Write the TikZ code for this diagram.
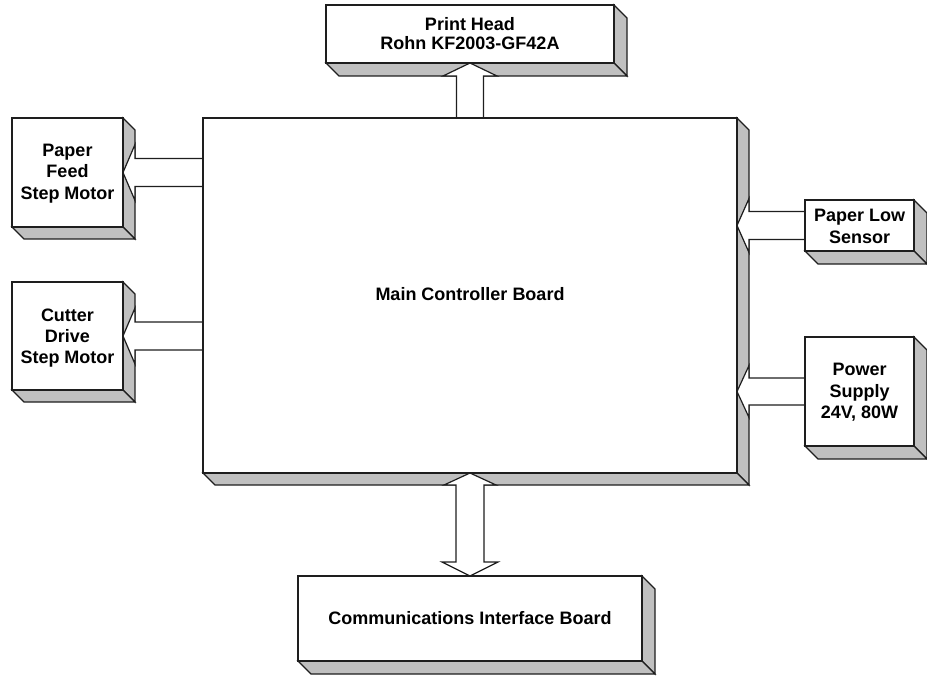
\documentclass[tikz,border=0pt]{standalone}
\usepackage{fontspec}
\setmainfont{Liberation Sans}
\usetikzlibrary{calc,fit}
\definecolor{shadegray}{HTML}{C0C0C0}
\definecolor{edge}{HTML}{1E1E1E}
\pgfdeclarelayer{background}
\pgfsetlayers{background,main}
\tikzset{
  block/.style={draw=edge, fill=white, line width=0.9pt, inner sep=0pt, outer sep=0pt},
  caption/.style={inner sep=0pt, align=center, font=\bfseries\fontsize{13.5}{16}\selectfont},
  tightcaption/.style={caption, font=\bfseries\fontsize{13.5}{14.3}\selectfont},
  side/.style={draw=edge, fill=shadegray, line width=0.9pt, line join=miter},
  flow/.style={draw=edge, fill=white, line width=0.9pt, line join=miter},
}
% gray right and bottom faces of a raised block: #1 node, #2 depth
\newcommand{\extrudeblock}[2]{%
  \filldraw[side] (#1.north east) -- ++(#2,#2) -- ($(#1.south east)+(#2,#2)$) -- (#1.south east) -- cycle;
  \filldraw[side] (#1.south west) -- ++(#2,#2) -- ($(#1.south east)+(#2,#2)$) -- (#1.south east) -- cycle;
}
\begin{document}
\begin{tikzpicture}[x=0.75pt, y=-0.75pt]
  \useasboundingbox (0,0) rectangle (927,677);

  % front faces
  \node[block, fit={(203,118) (737,473)}] (main) {};
  \node[block, fit={(326,5) (614,63)}] (head) {};
  \node[block, fit={(12,118) (123,227)}] (feed) {};
  \node[block, fit={(12,282) (123,390)}] (cutter) {};
  \node[block, fit={(805,200) (914,251)}] (low) {};
  \node[block, fit={(805,337) (914,446)}] (power) {};
  \node[block, fit={(298,576) (642,661)}] (comm) {};

  % block captions
  \node[caption] (maintxt) at ($(main.center)+(0,-1)$) {Main Controller Board};
  \node[tightcaption] (headtxt) at ($(head.center)+(0,0)$) {Print Head\\Rohn KF2003-GF42A};
  \node[caption] (feedtxt) at ($(feed.center)+(0,1)$) {Paper\\Feed\\Step Motor};
  \node[caption] (cuttertxt) at ($(cutter.center)+(0,2)$) {Cutter\\Drive\\Step Motor};
  \node[caption] (lowtxt) at ($(low.center)+(0,1)$) {Paper Low\\Sensor};
  \node[caption] (powertxt) at ($(power.center)+(0,1)$) {Power\\Supply\\24V, 80W};
  \node[caption] (commtxt) at (comm.center) {Communications Interface Board};

  \begin{pgfonlayer}{background}
    % extruded sides
    \extrudeblock{main}{12}
    \extrudeblock{head}{13}
    \extrudeblock{feed}{12}
    \extrudeblock{cutter}{12}
    \extrudeblock{low}{13}
    \extrudeblock{power}{13}
    \extrudeblock{comm}{13}

    % main board -> print head
    \filldraw[flow] ($(main.north -| head.south)+(-13.5,0)$) -- ($(head.south)+(-13.5,13)$)
      -- ($(head.south)+(-27,13)$) -- (head.south) -- ($(head.south)+(27,13)$)
      -- ($(head.south)+(13.5,13)$) -- ($(main.north -| head.south)+(13.5,0)$);

    % main board -> paper feed motor
    \filldraw[flow] ($(main.west |- feed.east)+(0,-14)$) -- ($(feed.east)+(12,-14)$)
      -- ($(feed.east)+(12,-28)$) -- (feed.east) -- ($(feed.east)+(12,28)$)
      -- ($(feed.east)+(12,14)$) -- ($(main.west |- feed.east)+(0,14)$);

    % main board -> cutter motor
    \filldraw[flow] ($(main.west |- cutter.east)+(0,-14)$) -- ($(cutter.east)+(12,-14)$)
      -- ($(cutter.east)+(12,-28)$) -- (cutter.east) -- ($(cutter.east)+(12,28)$)
      -- ($(cutter.east)+(12,14)$) -- ($(main.west |- cutter.east)+(0,14)$);

    % paper low sensor -> main board
    \filldraw[flow] ($(low.west)+(0,-14)$) -- ($(main.east |- low.west)+(12,-14)$)
      -- ($(main.east |- low.west)+(12,-27)$) -- (main.east |- low.west)
      -- ($(main.east |- low.west)+(12,27)$) -- ($(main.east |- low.west)+(12,14)$)
      -- ($(low.west)+(0,14)$);

    % power supply -> main board
    \filldraw[flow] ($(power.west)+(0,-13.5)$) -- ($(main.east |- power.west)+(12,-13.5)$)
      -- ($(main.east |- power.west)+(12,-26)$) -- (main.east |- power.west)
      -- ($(main.east |- power.west)+(12,26)$) -- ($(main.east |- power.west)+(12,13.5)$)
      -- ($(power.west)+(0,13.5)$);

    % main board <-> communications board
    \filldraw[flow] (main.south) -- ($(main.south)+(26,12)$) -- ($(main.south)+(14,12)$)
      -- ($(comm.north)+(14,-14)$) -- ($(comm.north)+(28,-14)$) -- (comm.north)
      -- ($(comm.north)+(-28,-14)$) -- ($(comm.north)+(-14,-14)$)
      -- ($(main.south)+(-14,12)$) -- ($(main.south)+(-26,12)$) -- cycle;
  \end{pgfonlayer}
\end{tikzpicture}
\end{document}
